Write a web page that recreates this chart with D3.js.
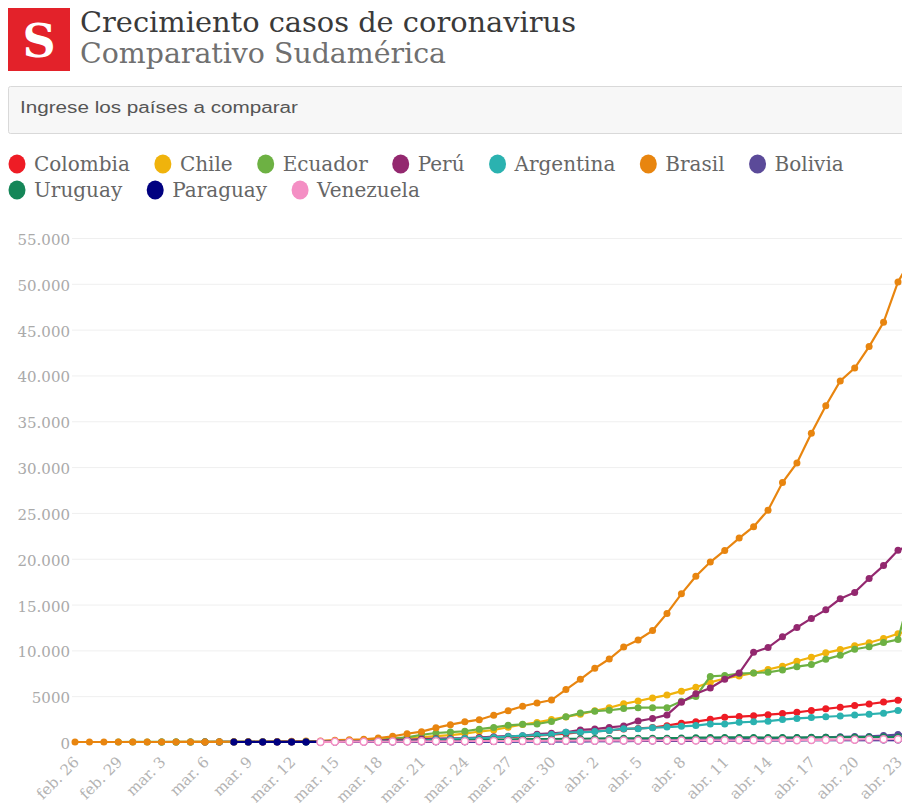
<!DOCTYPE html>
<html><head><meta charset="utf-8">
<script src="https://cdn.jsdelivr.net/npm/d3@7"></script>
<style>
html,body{margin:0;padding:0;background:#fff;overflow:hidden;}
svg{display:block;}
</style></head><body>
<svg id="chart" width="902" height="809"></svg>
<script>
// ---------- DATA ----------
const countries = ["Colombia","Chile","Ecuador","Perú","Argentina","Brasil","Bolivia","Uruguay","Paraguay","Venezuela"];
const colors    = ["#ee1c25","#f0b30c","#6db143","#93286f","#2bb2b0","#e8850f","#5b4a99","#158658","#000080","#f48fc4"];
const firstCase = ["2020-03-06","2020-03-03","2020-02-29","2020-03-06","2020-03-03","2020-02-26","2020-03-10","2020-03-13","2020-03-08","2020-03-14"];

const colombia  = [1,1,1,3,3,9,9,16,24,45,57,75,102,128,196,231,277,306,378,470,491,539,608,702,798,906,
  1065,1161,1267,1406,1485,1579,1780,2054,2223,2473,2709,2776,2852,2979,3105,3233,3439,3621,3792,3977,4149,4356,4561,4881];
const chile     = [1,1,4,5,7,10,13,17,23,33,43,61,75,156,201,238,342,434,537,632,746,922,1142,1306,1610,1909,2139,2449,2738,
  3031,3404,3737,4161,4471,4815,5116,5546,5972,6501,6927,7213,7525,7917,8273,8807,9252,9730,10088,10507,10832,11296,11812,12306];
const ecuador   = [1,6,7,10,13,13,14,14,15,15,17,17,19,23,28,37,58,111,199,367,506,789,981,1082,1173,1403,1595,1823,1924,1962,2240,2748,
  3163,3368,3465,3646,3747,3747,3747,4450,4965,7161,7257,7466,7529,7603,7858,8225,8450,9022,9468,10128,10398,10850,11183,17000];
const peru      = [1,6,7,9,11,17,22,38,43,71,86,117,145,234,234,318,363,395,416,480,580,635,671,852,950,1065,
  1323,1414,1595,1746,2281,2561,2954,4342,5256,5897,6848,7519,9784,10303,11475,12491,13489,14420,15628,16325,17837,19250,20914,21648];
const argentina = [1,1,1,2,8,12,12,17,19,19,31,34,45,56,68,79,97,128,158,266,301,387,387,502,589,690,745,820,1054,
  1054,1133,1265,1451,1451,1554,1628,1715,1795,1975,1975,2142,2208,2277,2443,2571,2669,2758,2839,2941,3031,3144,3435,3607];
const brasil    = [1,1,1,2,2,2,2,3,8,13,19,25,25,34,52,77,98,121,200,234,291,428,621,904,1128,1546,1891,2201,2433,2915,3417,3904,4256,4579,5717,
  6836,8044,9056,10360,11130,12161,14034,16170,18092,19638,20900,22250,23500,25300,28320,30450,33700,36700,39400,40800,43150,45800,50200,52995];
const bolivia   = [2,2,3,10,10,10,11,11,12,15,19,24,27,29,32,43,61,74,81,97,107,115,
  123,132,139,157,183,194,210,264,268,275,300,330,354,397,441,465,493,520,564,598,609,703,807,866];
const uruguay   = [4,6,8,29,50,79,94,110,135,158,162,189,217,238,274,304,309,310,338,
  350,369,386,400,400,406,415,424,473,480,494,501,502,483,492,493,508,517,517,528,535,543,548,557];
const paraguay  = [1,1,5,5,6,6,6,8,9,11,11,13,18,22,22,27,37,41,52,56,59,64,65,69,
  77,92,96,104,112,113,115,119,129,133,147,159,161,174,174,183,202,206,208,208,213,213,213,220];
const venezuela = [10,17,33,36,36,42,42,70,70,77,84,91,107,107,119,119,135,135,
  143,146,153,155,159,165,167,171,171,175,181,181,189,189,197,204,227,227,256,256,285,288,298,311];

const seriesValues = [colombia,chile,ecuador,peru,argentina,brasil,bolivia,uruguay,paraguay,venezuela];
const yTicks = [0,5000,10000,15000,20000,25000,30000,35000,40000,45000,50000,55000];
const xDomain = ["2020-02-26","2020-04-23"];
const xTickStep = 3;

const titleText = "Crecimiento casos de coronavirus";
const subtitleText = "Comparativo Sudamérica";
const placeholderText = "Ingrese los países a comparar";

// ---------- CHART ----------
const svg = d3.select("#chart");
const parse = d3.utcParse("%Y-%m-%d");
const es = d3.timeFormatLocale({
  dateTime:"%x, %X", date:"%d/%m/%Y", time:"%H:%M:%S", periods:["AM","PM"],
  days:["domingo","lunes","martes","miércoles","jueves","viernes","sábado"],
  shortDays:["dom","lun","mar","mié","jue","vie","sáb"],
  months:["enero","febrero","marzo","abril","mayo","junio","julio","agosto","septiembre","octubre","noviembre","diciembre"],
  shortMonths:["ene.","feb.","mar.","abr.","may.","jun.","jul.","ago.","sep.","oct.","nov.","dic."]
});
const fmtDate = es.utcFormat("%b %-d");
const numFmt = d3.formatLocale({decimal:",",thousands:".",grouping:[3],currency:["$",""]}).format(",");
const fmtY = v => v < 10000 ? String(v) : numFmt(v);

const serif = "'DejaVu Serif', serif";

// header
svg.append("rect").attr("x",8).attr("y",8).attr("width",62).attr("height",63).attr("fill","#e3222a");
svg.append("text").attr("x",39).attr("y",57).attr("text-anchor","middle")
  .attr("font-family",serif).attr("font-weight","bold").attr("font-size",46).attr("fill","#fff").text("S");
svg.append("text").attr("x",80).attr("y",32).attr("font-family",serif).attr("font-size",28)
  .attr("fill","#3a3a3a").attr("textLength",496).attr("lengthAdjust","spacingAndGlyphs").text(titleText);
svg.append("text").attr("x",80).attr("y",63).attr("font-family",serif).attr("font-size",28)
  .attr("fill","#707070").attr("textLength",366).attr("lengthAdjust","spacingAndGlyphs").text(subtitleText);

// input box
svg.append("rect").attr("x",8.5).attr("y",86.5).attr("width",905).attr("height",47).attr("rx",2)
  .attr("fill","#f7f7f7").attr("stroke","#d9d9d9");
svg.append("text").attr("x",20).attr("y",113).attr("font-family","'Liberation Sans', Arial, sans-serif")
  .attr("font-size",16).attr("fill","#555").attr("textLength",278).attr("lengthAdjust","spacingAndGlyphs")
  .text(placeholderText);

// legend (flow layout)
{
  let cx = 17, cy = 164;
  countries.forEach((c,i) => {
    const g = svg.append("g");
    const t = g.append("text").attr("font-family",serif).attr("font-size",20).attr("fill","#666").text(c);
    const w = t.node().getComputedTextLength();
    if (cx + 17 + w > 895) { cx = 17; cy += 26; }
    g.insert("ellipse","text").attr("cx",cx).attr("cy",cy).attr("rx",8.5).attr("ry",9.5).attr("fill",colors[i]);
    t.attr("x",cx+17).attr("y",cy+7);
    cx = cx + 17 + w + 33;
  });
}

// scales
const x = d3.scaleUtc().domain(xDomain.map(parse)).range([75, 898]);
const y = d3.scaleLinear().domain([0, 55000]).range([742, 238]);

// grid + y labels
const gy = svg.append("g");
yTicks.forEach(v => {
  if (v > 0) gy.append("line").attr("x1",72).attr("x2",902).attr("y1",y(v)+0.5).attr("y2",y(v)+0.5)
    .attr("stroke","#efefef").attr("stroke-width",1);
  gy.append("text").attr("x",70).attr("y",y(v)+7).attr("text-anchor","end")
    .attr("font-family",serif).attr("font-size",15).attr("fill","#aaa").text(fmtY(v));
});

// x labels
const xTicks = d3.utcDay.range(parse(xDomain[0]), d3.utcDay.offset(parse(xDomain[1]), 1), xTickStep);
const gx = svg.append("g");
xTicks.forEach(d => {
  const px = x(d) + 5, py = 763;
  gx.append("text").attr("transform",`translate(${px},${py}) rotate(-45)`).attr("text-anchor","end")
    .attr("font-family",serif).attr("font-size",15).attr("fill","#b3b3b3").text(fmtDate(d));
});

// series
const line = d3.line().x(d => x(d.date)).y(d => y(d.value));
countries.forEach((c,i) => {
  const start = parse(firstCase[i]);
  const pts = seriesValues[i].map((v,k) => ({date: d3.utcDay.offset(start,k), value: v}));
  const g = svg.append("g");
  g.append("path").datum(pts).attr("d",line).attr("fill","none").attr("stroke",colors[i]).attr("stroke-width",2.2);
  const hollow = c === "Venezuela";
  g.selectAll("circle").data(pts).join("circle")
    .attr("cx",d => x(d.date)).attr("cy",d => y(d.value)).attr("r",3.5)
    .attr("fill", hollow ? "#fff" : colors[i])
    .attr("stroke", colors[i]).attr("stroke-width", hollow ? 1.5 : 0);
});
</script>
</body></html>
